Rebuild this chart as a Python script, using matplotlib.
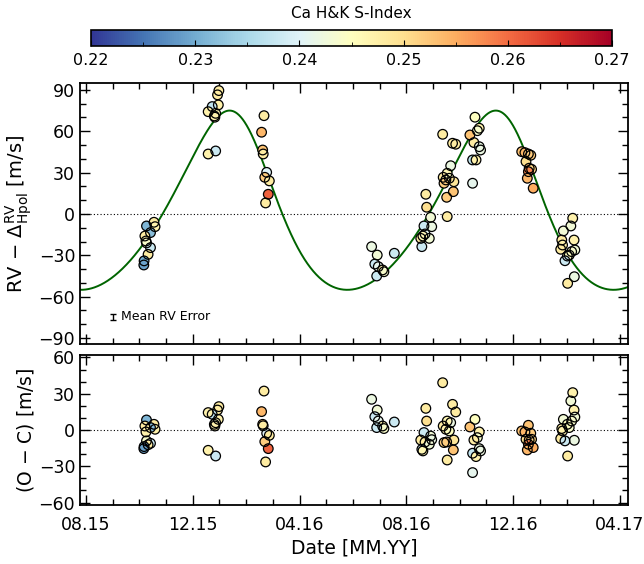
import numpy as np
import matplotlib
matplotlib.use("Agg")
import matplotlib.pyplot as plt
from matplotlib.ticker import MultipleLocator, FixedLocator
from matplotlib.colors import Normalize

plt.rcParams['font.family'] = ['DejaVu Sans']
plt.rcParams['mathtext.fontset'] = 'dejavusans'

# ---------------- data (time in months since 2015-08-01) ----------------
t_month = [
    2.27, 2.55, 2.59, 2.42, 2.21, 2.25, 2.27, 2.42, 2.33, 2.18, 2.17,
    4.98, 4.93, 4.96, 4.73, 4.58, 4.86, 4.81, 4.83, 4.58, 4.86,
    6.67, 6.58, 6.62, 6.64, 6.77, 6.70, 6.87, 6.83, 6.73,
    10.70, 10.91, 10.82, 10.95, 11.11, 11.16, 10.89, 11.55,
    12.73, 12.76, 12.91, 12.66, 12.95, 12.70, 12.54, 12.86, 12.58, 12.62,
    13.36, 13.73, 13.85, 13.66, 13.53, 13.38, 13.48, 13.61, 13.78, 13.41, 13.76, 13.51, 13.53,
    14.57, 14.73, 14.66, 14.38, 14.53, 14.73, 14.78, 14.48, 14.61, 14.48,
    16.32, 16.44, 16.57, 16.66, 16.48, 16.60, 16.69, 16.57, 16.53, 16.75,
    18.23, 18.16, 17.88, 18.28, 17.82, 17.85, 17.78, 18.31, 18.19, 18.10, 18.03, 17.94, 18.29, 18.04,
]
rv_corr = [
    -8.7, -6.0, -9.2, -13.5, -16.0, -19.6, -21.0, -24.4, -29.3, -34.0, -37.0,
    89.5, 86.4, 79.1, 77.9, 74.2, 73.0, 71.1, 70.2, 43.5, 45.7,
    71.3, 59.3, 46.4, 43.5, 30.2, 26.6, 24.0, 14.3, 8.0,
    -23.7, -29.8, -36.3, -38.2, -40.6, -41.9, -45.0, -28.5,
    14.3, 4.9, -2.4, -8.7, -9.2, -14.5, -17.7, -17.7, -23.7, -16.0,
    57.8, 51.3, 50.6, 35.0, 29.5, 26.6, 24.7, 25.9, 23.4, 22.3, 16.2, 12.1, -1.9,
    70.2, 62.2, 60.4, 57.3, 51.8, 48.8, 46.4, 39.2, 39.2, 22.3,
    45.2, 44.5, 43.5, 42.6, 38.0, 33.2, 32.4, 30.7, 25.9, 18.7,
    -3.1, -8.7, -12.3, -18.9, -18.9, -22.5, -25.6, -26.1, -27.3, -29.8, -30.5, -33.9, -45.5, -50.3,
]
o_minus_c = [
    8.3, 4.7, 0.6, 2.0, 3.3, -1.6, -9.0, -11.0, -12.2, -13.7, -15.4,
    19.3, 16.5, 8.8, 13.0, 14.4, 6.0, 4.7, 3.3, -16.8, -21.5,
    32.2, 15.2, 4.7, 3.5, -2.7, -9.6, -4.4, -15.4, -26.4,
    25.4, 16.5, 11.0, 7.4, 3.3, 1.2, 2.0, 6.6,
    17.9, 7.4, -5.0, -2.1, -8.0, -10.0, -8.3, -11.8, -16.0, -17.3,
    39.1, 21.2, 14.9, 6.1, 7.4, 3.3, 0.6, -0.8, -8.3, -10.4, -16.5, -9.9, -24.8,
    8.8, -1.6, -6.3, 2.5, -8.3, -15.4, -17.3, -19.2, -22.0, -35.2,
    -0.8, -1.6, 3.9, -2.7, -7.7, -8.3, -7.7, -11.8, -16.5, -14.5,
    30.9, 24.0, 8.8, 16.5, 1.2, -0.8, -7.1, 10.7, 7.4, 2.0, 4.7, -9.0, -8.5, -21.5,
]
s_index = [
    0.231, 0.248, 0.247, 0.232, 0.248, 0.247, 0.244, 0.238, 0.248, 0.230, 0.229,
    0.248, 0.248, 0.247, 0.237, 0.247, 0.246, 0.244, 0.247, 0.247, 0.238,
    0.248, 0.254, 0.253, 0.248, 0.240, 0.252, 0.248, 0.261, 0.248,
    0.242, 0.243, 0.238, 0.241, 0.247, 0.244, 0.238, 0.238,
    0.248, 0.250, 0.243, 0.238, 0.242, 0.241, 0.248, 0.243, 0.238, 0.246,
    0.248, 0.248, 0.248, 0.242, 0.246, 0.248, 0.247, 0.245, 0.249, 0.252, 0.253, 0.252, 0.248,
    0.245, 0.247, 0.244, 0.253, 0.248, 0.242, 0.242, 0.237, 0.247, 0.241,
    0.253, 0.254, 0.253, 0.252, 0.250, 0.253, 0.251, 0.258, 0.254, 0.255,
    0.247, 0.243, 0.243, 0.247, 0.248, 0.247, 0.248, 0.243, 0.244, 0.244, 0.245, 0.238, 0.242, 0.248,
]

# Keplerian fit parameters
period = 9.97        # months
k_amp = 65.0         # m/s
ecc = 0.18
omega_deg = 30.0
t_peak = 5.38        # months, time of first RV maximum
rv_peak = 75.0       # m/s

xtick_pos = [0, 4, 8, 12, 16, 20]
xtick_labels = ["08.15", "12.15", "04.16", "08.16", "12.16", "04.17"]
cbar_ticks = [0.22, 0.23, 0.24, 0.25, 0.26, 0.27]
mean_rv_err = 2.0

# ---------------- model curve ----------------
def kepler_rv(t):
    w = np.radians(omega_deg)
    gamma = rv_peak - k_amp * (1 + ecc * np.cos(w))
    nu_max = -w
    E_max = 2 * np.arctan(np.sqrt((1 - ecc) / (1 + ecc)) * np.tan(nu_max / 2))
    M_max = E_max - ecc * np.sin(E_max)
    tp = t_peak - M_max / (2 * np.pi) * period
    M = 2 * np.pi * (np.asarray(t) - tp) / period
    E = M.copy()
    for _ in range(50):
        E = E - (E - ecc * np.sin(E) - M) / (1 - ecc * np.cos(E))
    nu = 2 * np.arctan2(np.sqrt(1 + ecc) * np.sin(E / 2), np.sqrt(1 - ecc) * np.cos(E / 2))
    return k_amp * (np.cos(nu + w) + ecc * np.cos(w)) + gamma

# ---------------- figure ----------------
W, H = 644, 564
fig = plt.figure(figsize=(W / 100, H / 100), dpi=100)

def px_axes(x0, y0, x1, y1):
    return fig.add_axes([x0 / W, 1 - y1 / H, (x1 - x0) / W, (y1 - y0) / H])

ax1 = px_axes(80, 83, 628, 344)
ax2 = px_axes(80, 355, 628, 505)
cax = px_axes(91, 30, 612, 46)

cmap = plt.get_cmap('RdYlBu_r')
norm = Normalize(vmin=0.22, vmax=0.27)
xlim = (-0.22, 20.3)

tt = np.linspace(xlim[0], xlim[1], 1500)
ax1.plot(tt, kepler_rv(tt), color='#006400', lw=1.4, zorder=2)

for ax, yv in ((ax1, rv_corr), (ax2, o_minus_c)):
    ax.axhline(0, color='black', lw=0.8, ls=(0, (1, 2)), zorder=1)
    ax.scatter(t_month, yv, c=s_index, cmap=cmap, norm=norm, s=48,
               edgecolors='none', zorder=3)
    ax.scatter(t_month, yv, facecolors='none', edgecolors='black',
               s=48, linewidths=0.9, zorder=4)
    ax.set_xlim(*xlim)
    ax.xaxis.set_major_locator(FixedLocator(xtick_pos))
    ax.xaxis.set_minor_locator(MultipleLocator(1))
    ax.tick_params(which='both', direction='in', top=True, right=True,
                   labelsize=12.5, width=1.0)
    ax.tick_params(which='major', length=7)
    ax.tick_params(which='minor', length=4)
    for sp in ax.spines.values():
        sp.set_linewidth(1.3)

ax1.set_ylim(-94.3, 95)
ax1.yaxis.set_major_locator(MultipleLocator(30))
ax1.yaxis.set_minor_locator(MultipleLocator(10))
ax1.set_xticklabels([])
ax1.set_ylabel(r'RV $-$ $\Delta^{\rm RV}_{\rm Hpol}$ [m/s]', fontsize=14, labelpad=3)

ax2.set_ylim(-62, 62)
ax2.yaxis.set_major_locator(MultipleLocator(30))
ax2.yaxis.set_minor_locator(MultipleLocator(10))
ax2.set_xticklabels(xtick_labels)
ax2.tick_params(axis='x', pad=8)
ax2.set_ylabel(r'(O $-$ C) [m/s]', fontsize=13.5, labelpad=2)
ax2.set_xlabel('Date [MM.YY]', fontsize=13.5, labelpad=3)

# mean RV error marker
ax1.errorbar([1.0], [-74.7], yerr=[mean_rv_err], fmt='none', ecolor='black',
             elinewidth=1.0, capsize=2.5, capthick=1.0)
ax1.text(1.3, -74.7, 'Mean RV Error', fontsize=9, va='center', ha='left')

# colorbar
sm = matplotlib.cm.ScalarMappable(norm=norm, cmap=cmap)
cb = fig.colorbar(sm, cax=cax, orientation='horizontal')
cb.set_ticks(cbar_ticks)
cb.set_ticklabels(["%.2f" % v for v in cbar_ticks])
cax.xaxis.set_minor_locator(MultipleLocator(0.005))
cax.tick_params(which='both', direction='in', top=False, bottom=True, labelsize=11.5, pad=5)
cax.tick_params(which='major', length=4)
cax.tick_params(which='minor', length=3)
cb.outline.set_linewidth(1.2)
cax.set_title('Ca H&K S-Index', fontsize=11, pad=9)

fig.savefig('out.png', dpi=100)
